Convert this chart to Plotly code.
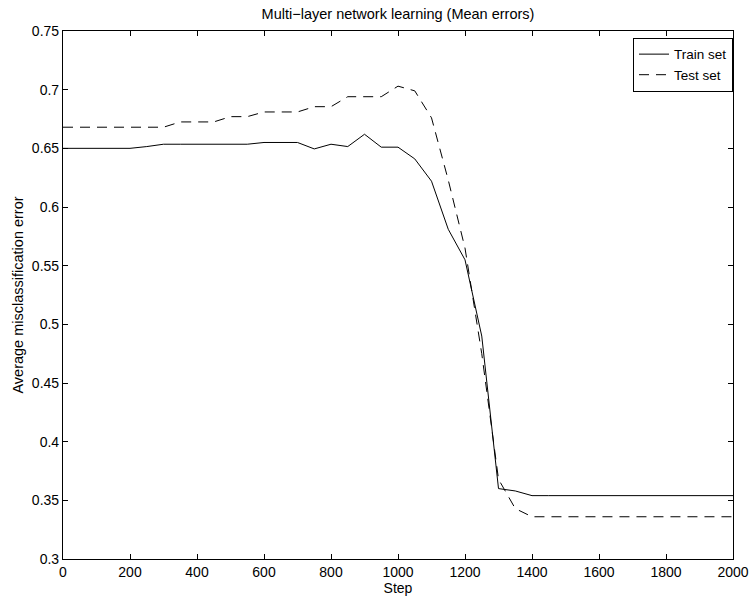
import plotly.graph_objects as go

steps = [0, 50, 100, 150, 200, 250, 300, 350, 400, 450, 500, 550, 600, 650, 700, 750, 800,
         850, 900, 950, 1000, 1050, 1100, 1150, 1200, 1250, 1300, 1350, 1400, 1450, 1500,
         1550, 1600, 1650, 1700, 1750, 1800, 1850, 1900, 1950, 2000]

train = [0.650, 0.650, 0.650, 0.650, 0.650, 0.6515, 0.6535, 0.6535, 0.6535, 0.6535, 0.6535,
         0.6535, 0.655, 0.655, 0.655, 0.6495, 0.6535, 0.6515, 0.662, 0.651, 0.651, 0.641,
         0.622, 0.581, 0.555, 0.490, 0.360, 0.358, 0.354, 0.354, 0.354, 0.354, 0.354, 0.354,
         0.354, 0.354, 0.354, 0.354, 0.354, 0.354, 0.354]

test = [0.668, 0.668, 0.668, 0.668, 0.668, 0.668, 0.668, 0.6725, 0.6725, 0.6725, 0.677,
        0.677, 0.681, 0.681, 0.681, 0.6855, 0.6855, 0.694, 0.694, 0.694, 0.703, 0.699,
        0.676, 0.623, 0.565, 0.475, 0.368, 0.343, 0.336, 0.336, 0.336, 0.336, 0.336, 0.336,
        0.336, 0.336, 0.336, 0.336, 0.336, 0.336, 0.336]

x_ticks = [0, 200, 400, 600, 800, 1000, 1200, 1400, 1600, 1800, 2000]
y_ticks = [0.3, 0.35, 0.4, 0.45, 0.5, 0.55, 0.6, 0.65, 0.7, 0.75]
y_tick_text = ["0.3", "0.35", "0.4", "0.45", "0.5", "0.55", "0.6", "0.65", "0.7", "0.75"]

FONT = "Liberation Sans, Arial, Helvetica, sans-serif"

fig = go.Figure()
fig.add_trace(go.Scatter(x=steps, y=train, mode="lines", name="Train set",
                         line=dict(color="black", width=1)))
fig.add_trace(go.Scatter(x=steps, y=test, mode="lines", name="Test set",
                         line=dict(color="black", width=1, dash="10px,7px")))

axis_common = dict(showline=True, linecolor="black", linewidth=1.2, mirror="ticks",
                   ticks="inside", ticklen=5, tickcolor="black", tickwidth=1,
                   showgrid=False, zeroline=False, automargin=False,
                   tickfont=dict(family=FONT, size=14, color="black"))

fig.update_layout(
    width=751, height=598,
    margin=dict(l=63, r=18, t=31, b=39),
    paper_bgcolor="white", plot_bgcolor="white",
    font=dict(family=FONT, color="black"),
    title=dict(text="Multi\u2212layer network learning (Mean errors)",
               x=(63 + 733) / 2 / 751, xanchor="center", y=1 - 14 / 598, yanchor="middle",
               font=dict(family=FONT, size=14.5, color="black")),
    xaxis=dict(range=[0, 2000], tickvals=x_ticks, **axis_common,
               title=dict(text="Step", standoff=0, font=dict(family=FONT, size=14))),
    yaxis=dict(range=[0.3, 0.75], tickvals=y_ticks, ticktext=y_tick_text, **axis_common,
               title=dict(text="Average misclassification error", standoff=4,
                          font=dict(family=FONT, size=14.5))),
    legend=dict(x=1.0, xanchor="right", y=0.987, yanchor="top",
                bordercolor="black", borderwidth=1, bgcolor="white",
                font=dict(family=FONT, size=13.5, color="black"),
                tracegroupgap=0, itemwidth=30),
    showlegend=True,
)

fig.write_html("out.html")
